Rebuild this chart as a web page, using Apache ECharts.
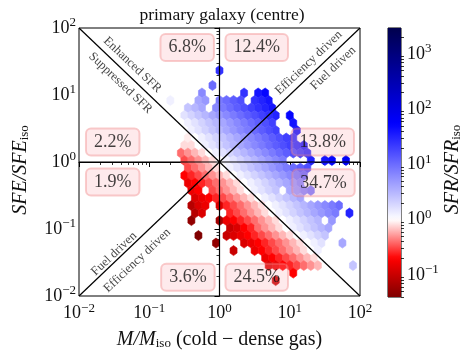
<!DOCTYPE html>
<html>
<head>
<meta charset="utf-8">
<script src="https://cdn.jsdelivr.net/npm/echarts@6/dist/echarts.min.js"></script>
<style>
html, body { margin: 0; padding: 0; background: #fff; }
#chart { width: 463px; height: 350px; }
</style>
</head>
<body>
<div id="chart"></div>
<script>
// hexbin cells, one row of the hex lattice per entry (all values in log10)
// rowLogY: log10(SFE/SFE_iso) of the row, rowStartX: log10(M/M_iso) of its first cell,
// rowValues: log10(SFR/SFR_iso) of each cell from left to right, null = empty cell
const rowLogY = [1.366, 1.254, 1.142, 1.030, 0.918, 0.806, 0.694, 0.582, 0.470, 0.358,
    0.246, 0.134, 0.022, -0.090, -0.202, -0.314, -0.426, -0.538, -0.650, -0.762,
    -0.874, -0.986, -1.098, -1.210, -1.322, -1.434, -1.546, -1.658, -1.770];
const rowStartX = [0.0, 0.0, -0.1, -0.25, -0.7, -0.45, -0.5, -0.55, -0.5, -0.55,
    -0.5, -0.55, -0.5, -0.45, -0.5, -0.45, -0.4, -0.35, -0.4, -0.35,
    -0.4, 0.15, -0.3, -0.05, 0.2, 0.65, 0.7, 1.05, 0.8];
const rowValues = [
    [1.4],
    [],
    [1.0],
    [0.8, null, null, null, null, null, 1.4, null, 1.6, 1.7],
    [0.1, null, null, null, 0.6, 0.7, null, 0.9, 1.0, 1.1, 1.2, null, 1.4, 1.5, 1.6],
    [0.4, 0.5, 0.6, null, 0.8, 0.9, 1.0, 1.1, 1.2, 1.3, 1.4, 1.5, 1.6],
    [0.2, 0.3, 0.4, 0.5, 0.6, 0.7, 0.8, 0.9, 1.0, 1.1, 1.2, 1.3, 1.4, 1.5, null, 1.7],
    [0.0, 0.1, 0.2, 0.3, 0.4, 0.5, 0.6, 0.7, 0.8, 0.9, 1.0, 1.1, 1.2, 1.3, null, null, 1.6],
    [0.0, 0.1, 0.2, 0.3, 0.4, 0.5, 0.6, 0.7, 0.8, 0.9, 1.0, 1.1, 1.2, 1.3, null, null, 1.6],
    [0.0, -0.05, 0.0, 0.1, 0.2, 0.3, 0.4, 0.5, 0.6, 0.7, 0.8, 0.9, 1.0, 1.1, 1.2, 1.3, 1.4],
    [-0.1, -0.1, 0.0, 0.1, 0.2, 0.3, 0.4, 0.5, 0.6, 0.7, 0.8, 0.9, 1.0, 1.1, 1.2, 1.3, 1.4, 1.5],
    [-0.4, -0.3, -0.2, -0.1, 0.0, 0.1, 0.2, 0.3, 0.4, 0.5, 0.6, 0.7, 0.8, 0.9, 1.0, 1.1, 1.2, 1.3, 1.4],
    [-0.5, -0.4, -0.3, -0.2, -0.1, 0.0, 0.1, 0.2, 0.3, 0.4, 0.5, 0.6, 0.7, 0.8, 0.9, null, null, null, 1.5, null, 1.6, 1.7, null, 1.8],
    [-0.5, -0.4, -0.3, -0.2, -0.1, 0.0, 0.1, 0.2, 0.3, 0.4, 0.5, 0.6, 0.7, 0.8, 0.9, 1.0, 1.1, 1.2],
    [-0.7, -0.6, -0.5, -0.4, -0.3, -0.2, -0.1, 0.0, 0.1, 0.2, 0.3, 0.4, 0.5, 0.6, 0.7, 0.8, 0.9, 1.0],
    [-0.8, -0.7, -0.6, -0.5, -0.4, -0.3, -0.2, -0.1, 0.0, 0.1, 0.2, 0.3, 0.4, 0.5, 0.6, 0.7, 0.8],
    [-0.8, -0.7, null, -0.5, -0.4, -0.3, -0.2, -0.1, 0.0, 0.1, 0.2, 0.3, 0.4, null, 0.6, 0.7, 0.8, 0.9],
    [-0.9, -0.8, -0.7, -0.6, -0.5, -0.4, -0.3, -0.2, -0.1, 0.0, 0.1, 0.2, 0.3, 0.4, 0.5, 0.6],
    [-1.1, -0.9, -0.8, null, -0.9, -0.6, -0.5, -0.4, -0.3, -0.2, -0.1, 0.0, 0.1, 0.2, 0.3, 0.4, 0.5, 0.6, 0.7, 0.8, 0.9, 1.0],
    [-1.1, -0.9, null, null, null, -0.6, -0.5, -0.4, -0.3, -0.2, -0.1, 0.0, 0.1, 0.2, 0.3, 0.4, 0.5, 0.6, 0.7, 0.8, 0.9, null, 1.5],
    [-1.3, null, null, null, -1.2, -0.8, -0.7, -0.6, -0.5, -0.4, -0.3, -0.2, -0.1, 0.0, 0.1, 0.2, 0.3, 0.4, 0.5, null, 0.7],
    [-1.0, -0.9, -0.7, -0.6, -0.4, -0.3, -0.2, -0.1, 0.0, 0.1, 0.2, 0.3, 0.4, 0.5, 0.6],
    [-1.4, null, null, null, -1.0, -0.9, -0.8, -0.7, -0.6, -0.5, -0.4, -0.3, -0.2, -0.1, 0.0, 0.1, 0.2, 0.3, 0.4],
    [-1.3, null, null, null, -0.9, -0.8, -0.7, -0.6, -0.5, -0.4, -0.3, -0.2, -0.1, 0.0, 0.1, 0.2, null, null, 0.6],
    [-1.0, null, null, -0.8, -0.7, -0.6, -0.5, -0.4, -0.3, -0.2, -0.1, 0.0, 0.1],
    [-0.8, -0.7, -0.6, -0.5, -0.4, -0.3, -0.2, -0.1, 0.0],
    [-0.9, -0.8, -0.7, -0.6, -0.5, -0.4, -0.3, -0.2, null, null, null, null, 0.4],
    [-0.7],
    [-1.0]
];

// quadrant percentages
const pctText = ['6.8%', '12.4%', '2.2%', '13.8%', '1.9%', '34.7%', '3.6%', '24.5%'];
const pctX = [-0.46, 0.53, -1.52, 1.47, -1.52, 1.48, -0.45, 0.53];
const pctY = [1.71, 1.71, 0.30, 0.30, -0.30, -0.31, -1.72, -1.72];

// labels along the diagonals
const diagText = ['Enhanced SFR', 'Suppressed SFR', 'Efficiency driven', 'Fuel driven', 'Fuel driven', 'Efficiency driven'];
const diagX = [-1.24, -1.41, 1.27, 1.62, -1.50, -1.17];
const diagY = [1.45, 1.18, 1.48, 1.40, -1.37, -1.47];
const diagUp = [false, false, true, true, true, true];

// reference lines: y = x, y = 1/x, y = 1, x = 1
const refLines = [
    [[-2, -2], [2, 2]],
    [[-2, 2], [2, -2]],
    [[-2, 0], [2, 0]],
    [[0, -2], [0, 2]]
];

// colour bar range, log10(SFR/SFR_iso)
const cbarMin = -1.4;
const cbarMax = 3.47;
const cbarTicks = [-1, 0, 1, 2, 3];

const hexStepX = 0.1;   // dex between cells of a row
const hexHalfH = 0.075; // dex, half height of a cell

const FONT = 'Liberation Serif';
const INK = '#111';

const seismicR = [[0.5, 0, 0], [1, 0, 0], [1, 1, 1], [0, 0, 1], [0, 0, 0.3]];
function cmap(v) {
    let n = v < 0 ? 0.5 * (1 - v / cbarMin) : 0.5 + 0.5 * v / cbarMax;
    n = Math.max(0, Math.min(1, n));
    let f = n * 4, i = Math.min(3, Math.floor(f)), t = f - i;
    let a = seismicR[i], b = seismicR[i + 1];
    return 'rgb(' + [0, 1, 2].map(k => Math.round(255 * (a[k] + (b[k] - a[k]) * t))).join(',') + ')';
}

function minorTicks(lo, hi) {
    let out = [];
    for (let k = Math.floor(lo); k < Math.ceil(hi); k++) {
        for (let m = 2; m <= 9; m++) {
            let v = k + Math.log10(m);
            if (v > lo && v < hi) out.push(v);
        }
    }
    return out;
}

function powLabel(v) {
    let e = Math.round(v);
    return '{b|10}{e|' + (e < 0 ? '\u2212' + (-e) : e) + '}';
}

const tickRich = {
    b: { fontFamily: FONT, fontSize: 18, color: INK },
    e: { fontFamily: FONT, fontSize: 13, color: INK, padding: [0, 0, 10, 0] }
};
const nameRich = {
    i: { fontFamily: FONT, fontSize: 20, fontStyle: 'italic', color: INK },
    n: { fontFamily: FONT, fontSize: 20, color: INK },
    s: { fontFamily: FONT, fontSize: 13, color: INK, padding: [8, 0, 0, 0] }
};

let hexData = [];
rowValues.forEach(function (vals, r) {
    vals.forEach(function (v, i) {
        if (v !== null) hexData.push([rowStartX[r] + i * hexStepX, rowLogY[r], v]);
    });
});

let cbarStops = [];
for (let i = 0; i <= 60; i++) {
    cbarStops.push({ offset: i / 60, color: cmap(cbarMin + (cbarMax - cbarMin) * i / 60) });
}

let dom = document.getElementById('chart');
let myChart = echarts.init(dom, null, { renderer: 'canvas' });

let option = {
    animation: false,
    backgroundColor: '#fff',
    grid: [
        { left: 79, top: 28, width: 281, height: 268, outerBoundsMode: 'none', containLabel: false,
          show: true, borderColor: '#000', borderWidth: 1, backgroundColor: 'transparent' },
        { left: 388, top: 28, width: 13, height: 269, outerBoundsMode: 'none', containLabel: false,
          show: true, borderColor: '#000', borderWidth: 1, backgroundColor: 'transparent' }
    ],
    xAxis: [
        {
            gridIndex: 0, type: 'value', min: -2, max: 2, interval: 1,
            axisLine: { lineStyle: { color: '#000', width: 1 } },
            axisTick: { inside: false, length: 5, lineStyle: { color: '#000' } },
            axisLabel: { margin: 6, formatter: powLabel, rich: tickRich },
            splitLine: { show: false },
            name: '{i|M/M}{s|iso}{n| (cold \u2212 dense gas)}',
            nameLocation: 'middle', nameGap: 33,
            nameTextStyle: { rich: nameRich }
        },
        {
            gridIndex: 0, type: 'value', min: -2, max: 2, position: 'bottom',
            axisLine: { show: false },
            axisTick: { length: 3, customValues: minorTicks(-2, 2), lineStyle: { color: '#000', width: 0.8 } },
            axisLabel: { show: false },
            splitLine: { show: false }
        },
        { gridIndex: 1, type: 'value', min: 0, max: 1, show: false }
    ],
    yAxis: [
        {
            gridIndex: 0, type: 'value', min: -2, max: 2, interval: 1,
            axisLine: { lineStyle: { color: '#000', width: 1 } },
            axisTick: { inside: false, length: 5, lineStyle: { color: '#000' } },
            axisLabel: { margin: 3, formatter: powLabel, rich: tickRich },
            splitLine: { show: false },
            name: '{i|SFE/SFE}{s|iso}',
            nameLocation: 'middle', nameGap: 48, nameRotate: 90,
            nameTextStyle: { rich: nameRich, padding: [0, 16, 0, 0] }
        },
        {
            gridIndex: 0, type: 'value', min: -2, max: 2, position: 'left',
            axisLine: { show: false },
            axisTick: { length: 3, customValues: minorTicks(-2, 2), lineStyle: { color: '#000', width: 0.8 } },
            axisLabel: { show: false },
            splitLine: { show: false }
        },
        {
            gridIndex: 1, type: 'value', min: cbarMin, max: cbarMax, position: 'right',
            axisLine: { show: false },
            axisTick: { inside: false, length: 5, customValues: cbarTicks, lineStyle: { color: '#000' } },
            axisLabel: { margin: 6, customValues: cbarTicks, formatter: powLabel, rich: tickRich },
            splitLine: { show: false },
            name: '{i|SFR/SFR}{s|iso}',
            nameLocation: 'middle', nameGap: 29, nameRotate: 90,
            nameTextStyle: { rich: nameRich, padding: [0, 14, 0, 0] }
        },
        {
            gridIndex: 1, type: 'value', min: cbarMin, max: cbarMax, position: 'right',
            axisLine: { show: false },
            axisTick: { length: 3, customValues: minorTicks(cbarMin, cbarMax), lineStyle: { color: '#000', width: 0.8 } },
            axisLabel: { show: false },
            splitLine: { show: false }
        }
    ],
    graphic: [
        {
            type: 'text', x: 222, y: 15,
            style: { text: 'primary galaxy (centre)', font: '17.5px "' + FONT + '"', fill: INK, textAlign: 'center', textVerticalAlign: 'middle' }
        }
    ],
    series: [
        {
            // hexbin cells
            type: 'custom', xAxisIndex: 0, yAxisIndex: 0, clip: true, z: 2,
            data: hexData,
            encode: { x: 0, y: 1 },
            renderItem: function (params, api) {
                let lx = api.value(0), ly = api.value(1), v = api.value(2);
                let hw = hexStepX / 2, hh = hexHalfH;
                let pts = [[lx + hw, ly - hh / 2], [lx + hw, ly + hh / 2], [lx, ly + hh],
                    [lx - hw, ly + hh / 2], [lx - hw, ly - hh / 2], [lx, ly - hh]].map(p => api.coord(p));
                let c = cmap(v);
                return { type: 'polygon', shape: { points: pts }, style: { fill: c, stroke: c, lineWidth: 0.6 } };
            }
        }
    ].concat(refLines.map(function (seg) {
        return {
            type: 'line', xAxisIndex: 0, yAxisIndex: 0, z: 3, data: seg,
            symbol: 'none', lineStyle: { color: '#000', width: 1.2 }, silent: true
        };
    })).concat([
        {
            // diagonal region labels
            type: 'scatter', xAxisIndex: 0, yAxisIndex: 0, z: 4, symbolSize: 1, silent: true,
            itemStyle: { color: 'rgba(0,0,0,0)' },
            data: diagText.map((t, i) => ({
                name: t, value: [diagX[i], diagY[i]],
                label: { rotate: diagUp[i] ? 43.5 : -43.5 }
            })),
            label: {
                show: true, position: 'inside', formatter: '{b}',
                fontFamily: FONT, fontSize: 12.5, color: INK
            }
        },
        {
            // quadrant percentages
            type: 'scatter', xAxisIndex: 0, yAxisIndex: 0, z: 5, symbolSize: 1, silent: true,
            itemStyle: { color: 'rgba(0,0,0,0)' },
            data: pctText.map((t, i) => ({ name: t, value: [pctX[i], pctY[i]] })),
            label: {
                show: true, position: 'inside', formatter: '{b}',
                fontFamily: FONT, fontSize: 18, color: INK,
                backgroundColor: 'rgba(250,170,175,0.3)',
                borderColor: 'rgba(240,128,128,0.5)', borderWidth: 1, borderRadius: 5,
                padding: [5, 8, 4, 8]
            }
        },
        {
            // colour bar
            type: 'custom', xAxisIndex: 2, yAxisIndex: 2, z: 1,
            data: [[0, cbarMin]],
            renderItem: function (params, api) {
                let p0 = api.coord([0, cbarMin]), p1 = api.coord([1, cbarMax]);
                return {
                    type: 'rect',
                    shape: { x: p0[0], y: p1[1], width: p1[0] - p0[0], height: p0[1] - p1[1] },
                    style: { fill: new echarts.graphic.LinearGradient(0, 1, 0, 0, cbarStops) }
                };
            }
        }
    ])
};

myChart.setOption(option, true);
</script>
</body>
</html>
